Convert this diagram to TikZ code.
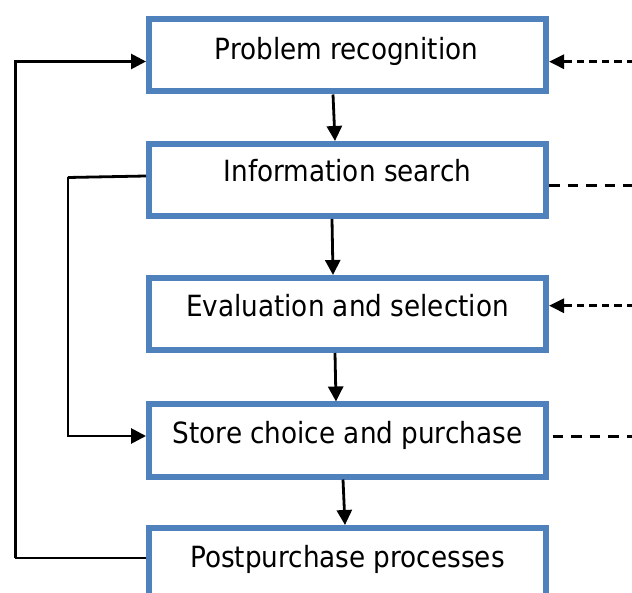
\documentclass[tikz,border=0pt]{standalone}
\usepackage{fontspec}
\setmainfont{DejaVu Sans Condensed}
\usetikzlibrary{arrows.meta}
\definecolor{boxblue}{HTML}{4F81BD}
\tikzset{
  stagebox/.style={draw=boxblue, line width=6pt, fill=white, rectangle,
    minimum width=397pt, minimum height=72pt, inner sep=0pt},
  stagetext/.style={anchor=base, inner sep=0pt, font=\fontsize{29.2}{34}\selectfont},
  flow/.style={line width=2.8pt, -{Triangle[length=15pt,width=15pt]}},
  link/.style={line width=2.8pt},
  feedin/.style={line width=3pt, dash pattern=on 7.5pt off 5pt,
    -{Triangle[length=15pt,width=14pt]}},
  feedout/.style={line width=3pt, dash pattern=on 10.5pt off 8pt},
}
\begin{document}
\begin{tikzpicture}[x=1pt,y=-1pt]
\useasboundingbox (0,0) rectangle (632,593);
\clip (0,0) rectangle (632,593);

% corner points of the two loop-back connectors
\coordinate (k1) at (15.3,558);
\coordinate (k2) at (68,177.5);

% stage boxes
\node[stagebox] (b1) at (347.5,55.5) {};
\node[stagebox] (b2) at (347.5,180) {};
\node[stagebox] (b3) at (347.5,314) {};
\node[stagebox] (b4) at (347.5,440.5) {};
\node[stagebox] (b5) at (347.5,564) {};

\node[stagetext] (t1) at (346.5,59.5) {Problem recognition};
\node[stagetext] (t2) at (347.5,182) {Information search};
\node[stagetext] (t3) at (347.5,317) {Evaluation and selection};
\node[stagetext] (t4) at (347.5,444) {Store choice and purchase};
\node[stagetext] (t5) at (347.5,567) {Postpurchase processes};

% main flow
\draw[flow] ([xshift=-14.5pt]b1.south) -- ([xshift=-12.5pt]b2.north);
\draw[flow] ([xshift=-15.5pt]b2.south) -- ([xshift=-14.5pt]b3.north);
\draw[flow] ([xshift=-12.5pt]b3.south) -- ([xshift=-11.5pt]b4.north);
\draw[flow] ([xshift=-4.5pt]b4.south) -- ([xshift=-2.5pt]b5.north);

% feedback loops
\draw[link] ([yshift=6pt]b5.west) -- (k1);
\draw[flow] (k1) |- ([yshift=-6pt]b1.west);
\draw[link] ([yshift=4pt]b2.west) -- (k2);
\draw[flow] (k2) |- ([yshift=4.5pt]b4.west);

% external influences on the right
\coordinate (r1) at (632,61.7);
\coordinate (r2) at (632,186);
\coordinate (r3) at (632,305.7);
\coordinate (r4) at (632,436.7);
\draw[feedin, dash phase=2pt] (r1) -- ([yshift=-6.2pt]b1.east);
\draw[feedout] ([yshift=-6pt]b2.east) -- (r2);
\draw[feedin, dash phase=2pt] (r3) -- ([yshift=8.3pt]b3.east);
\draw[feedout, shorten <=3.7pt] ([yshift=3.8pt]b4.east) -- (r4);
\end{tikzpicture}
\end{document}
